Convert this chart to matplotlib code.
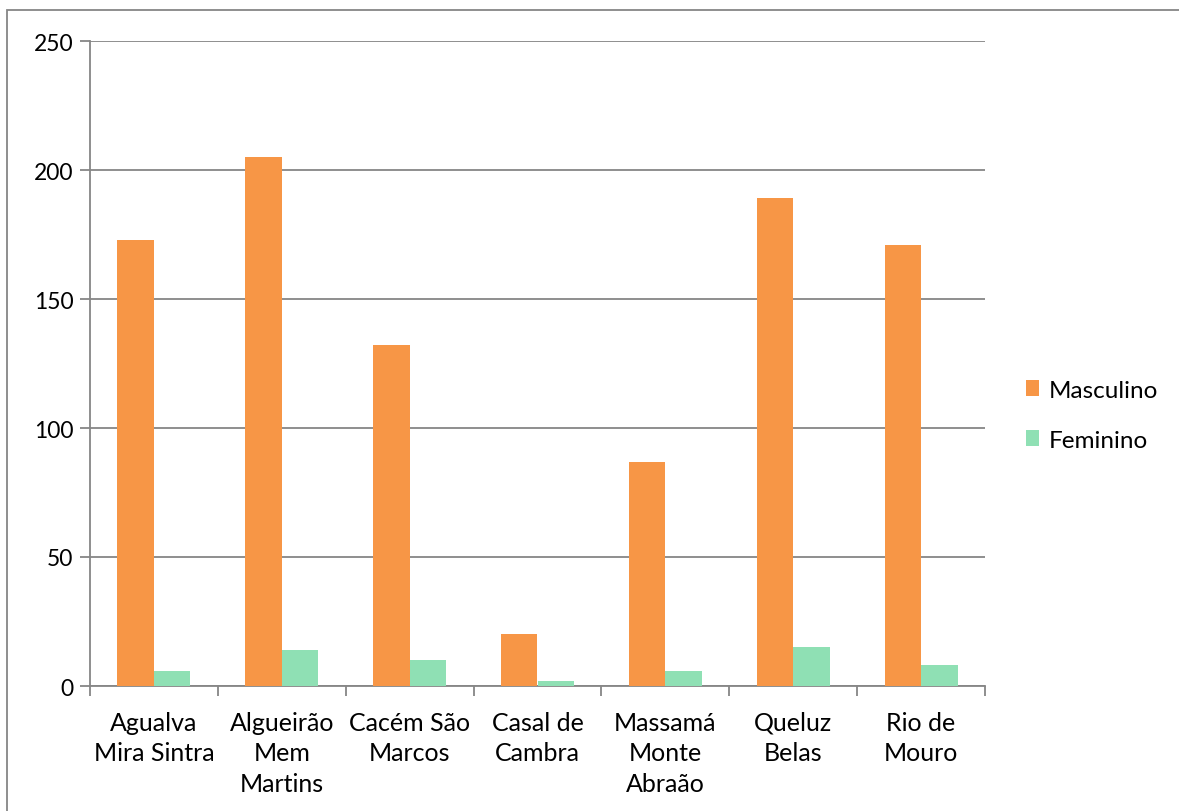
import matplotlib.pyplot as plt
import numpy as np
from matplotlib.patches import Rectangle

categories = ["Agualva\nMira Sintra", "Algueirão\nMem\nMartins", "Cacém São\nMarcos",
              "Casal de\nCambra", "Massamá\nMonte\nAbraão", "Queluz\nBelas", "Rio de\nMouro"]
masculino = [173, 205, 132, 20, 87, 189, 171]
feminino = [6, 14, 10, 2, 6, 15, 8]
yticks = [0, 50, 100, 150, 200, 250]

plt.rcParams["font.family"] = ["Lato", "DejaVu Sans"]
grey = "#868686"

fig = plt.figure(figsize=(11.79, 8.12), dpi=100)
ax = fig.add_axes([90 / 1179, 1 - 687 / 812, 895 / 1179, 645 / 812])

x = np.arange(len(categories))
w = 0.285
ax.bar(x - w / 2, masculino, w, color="#F79646", label="Masculino", zorder=3)
ax.bar(x + w / 2, feminino, w, color="#8FE0B4", label="Feminino", zorder=3)

ax.set_xlim(-0.5, len(categories) - 0.5)
ax.set_ylim(0, 250)
ax.set_yticks(yticks)
ax.set_yticklabels([str(v) for v in yticks], fontsize=16.5)
ax.yaxis.grid(True, color=grey, linewidth=1.3, zorder=0)

ax.set_xticks(np.arange(len(categories) + 1) - 0.5)
ax.set_xticklabels([])
ax.set_xticks(x, minor=True)
ax.set_xticklabels(categories, minor=True, fontsize=18, linespacing=1.39)
ax.tick_params(axis="x", which="minor", length=0, pad=18)
ax.tick_params(axis="x", which="major", length=7, color=grey, width=1.3)
ax.tick_params(axis="y", length=7, color=grey, width=1.3, pad=5)

for s in ["top", "right"]:
    ax.spines[s].set_visible(False)
for s in ["left", "bottom"]:
    ax.spines[s].set_color(grey)
    ax.spines[s].set_linewidth(1.3)

ax.legend(loc="center left", bbox_to_anchor=(1.035, 0.42), frameon=False, fontsize=17.5,
          handlelength=0.55, handleheight=0.6, handletextpad=0.4, labelspacing=1.2,
          borderaxespad=0)

fig.patches.append(Rectangle((7 / 1179, -0.1), 1.2, 1 - 11 / 812 + 0.1,
                             transform=fig.transFigure, fill=False,
                             edgecolor=grey, linewidth=1.3))

fig.savefig("out.png", dpi=100)
